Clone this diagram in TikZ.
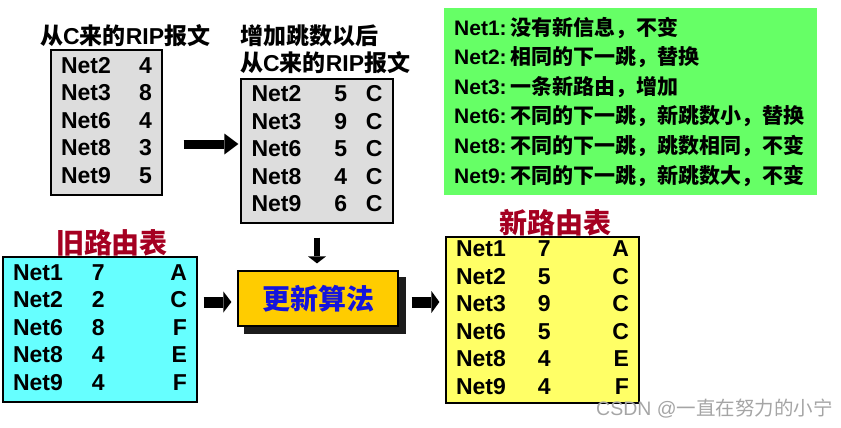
\documentclass[tikz,border=0pt]{standalone}
\usepackage{fontspec}
\usepackage{array}
\setmainfont{Liberation Sans}
\newfontfamily\cjk{Noto Sans CJK SC}
\usetikzlibrary{arrows.meta,positioning,calc,backgrounds}
\definecolor{MsgGray}{RGB}{221,221,221}
\definecolor{OldCyan}{RGB}{102,255,255}
\definecolor{NewYellow}{RGB}{255,255,102}
\definecolor{RuleGreen}{RGB}{102,255,102}
\definecolor{AlgoGold}{RGB}{255,204,0}
\definecolor{TitleRed}{RGB}{165,0,33}
\definecolor{AlgoBlue}{RGB}{20,20,220}
\definecolor{ShadowGray}{RGB}{28,28,28}
\definecolor{MarkGray}{RGB}{165,165,165}
\newcommand{\zh}[1]{{\cjk #1}}

\begin{document}
\begin{tikzpicture}[x=1pt,y=-1pt,
    tablebox/.style={draw,line width=1.2pt,inner sep=0pt,
      font=\fontsize{23}{27.5}\selectfont\bfseries},
    caption/.style={inner sep=0pt,font=\fontsize{23}{27}\selectfont\bfseries},
    tabtitle/.style={inner sep=0pt,text=TitleRed,
      font=\fontsize{28}{30}\selectfont\bfseries\cjk},
    blockarrow/.style n args={3}{line width=#1,
      -{Triangle[length=#2,width=#3,line width=0pt]}}]
  \useasboundingbox (0,0) rectangle (841,428);

  % RIP message from C
  \node[caption,anchor=west] (recvcap) at (40,36)
    {\zh{从}C\zh{来的}RIP\zh{报文}};
  \node[tablebox,fill=MsgGray,minimum width=111pt,minimum height=145pt]
    (recv) at (106.5,122.5) {%
    \begin{tabular}{@{}p{78pt}@{}>{\raggedleft\arraybackslash}p{13pt}@{}}
      Net2 & 4\\ Net3 & 8\\ Net6 & 4\\ Net8 & 3\\ Net9 & 5
    \end{tabular}};

  % after adding one hop
  \node[caption,anchor=west,align=left] (incrcap) at (240,49)
    {\zh{增加跳数以后}\\\zh{从}C\zh{来的}RIP\zh{报文}};
  \node[tablebox,fill=MsgGray,minimum width=152pt,minimum height=144pt]
    (incr) at (317,151) {%
    \begin{tabular}{@{}p{83pt}@{}p{20pt}@{}>{\raggedleft\arraybackslash}p{28pt}@{}}
      Net2 & 5 & C\\ Net3 & 9 & C\\ Net6 & 5 & C\\ Net8 & 4 & C\\ Net9 & 6 & C
    \end{tabular}};

  % rules
  \node[fill=RuleGreen,anchor=north west,minimum height=187pt,
    text width=353pt,inner xsep=10pt,inner ysep=0pt,align=left,
    font=\fontsize{21}{29.6}\selectfont\bfseries] (rules) at (444,8)
    {Net1:\,\zh{没有新信息，不变}\\
     Net2:\,\zh{相同的下一跳，替换}\\
     Net3:\,\zh{一条新路由，增加}\\
     Net6:\,\zh{不同的下一跳，新跳数小，替换}\\
     Net8:\,\zh{不同的下一跳，跳数相同，不变}\\
     Net9:\,\zh{不同的下一跳，新跳数大，不变}};

  % old table
  \node[tabtitle] (oldcap) at (112,243) {旧路由表};
  \node[tablebox,fill=OldCyan,minimum width=194pt,minimum height=145pt]
    (old) at (100,329.5) {%
    \begin{tabular}{@{}p{79pt}@{}p{30pt}@{}>{\raggedleft\arraybackslash}p{65pt}@{}}
      Net1 & 7 & A\\ Net2 & 2 & C\\ Net6 & 8 & F\\ Net8 & 4 & E\\ Net9 & 4 & F
    \end{tabular}};

  % algorithm
  \node[draw,line width=1.2pt,fill=AlgoGold,minimum width=160pt,
    minimum height=55pt,text=AlgoBlue,
    font=\fontsize{28}{30}\selectfont\bfseries\cjk] (algo) at (318,298.5) {更新算法};
  \begin{scope}[on background layer]
    \fill[ShadowGray] ([xshift=7pt,yshift=-7pt]algo.south west)
      rectangle ([xshift=7pt,yshift=-7pt]algo.north east);
  \end{scope}

  % new table
  \node[tabtitle] (newcap) at (555,222.5) {新路由表};
  \node[tablebox,fill=NewYellow,minimum width=193pt,minimum height=166pt]
    (new) at (542.5,320) {%
    \begin{tabular}{@{}p{82pt}@{}p{30pt}@{}>{\raggedleft\arraybackslash}p{61pt}@{}}
      Net1 & 7 & A\\ Net2 & 5 & C\\ Net3 & 9 & C\\ Net6 & 5 & C\\
      Net8 & 4 & E\\ Net9 & 4 & F
    \end{tabular}};

  % arrows
  \coordinate (toprow) at (0,144);
  \coordinate (midrow) at (0,302);
  \draw[blockarrow={9pt}{14pt}{21pt},shorten <=21pt,shorten >=2pt]
    (recv.east |- toprow) -- (incr.west |- toprow);
  \draw[blockarrow={6pt}{7pt}{18pt},shorten <=14pt,shorten >=7pt]
    (incr.south) -- (incr.south |- algo.north);
  \draw[blockarrow={11pt}{8pt}{21pt},shorten <=6pt,shorten >=6pt]
    (old.east |- midrow) -- (algo.west |- midrow);
  \draw[blockarrow={11pt}{8pt}{22pt},shorten <=13pt,shorten >=6pt]
    (algo.east |- midrow) -- (new.west |- midrow);

  \node[anchor=west,inner sep=0pt,text=MarkGray,
    font=\fontsize{19.5}{22}\selectfont] (mark) at (596,409)
    {CSDN @\zh{一直在努力的小宁}};
\end{tikzpicture}
\end{document}
